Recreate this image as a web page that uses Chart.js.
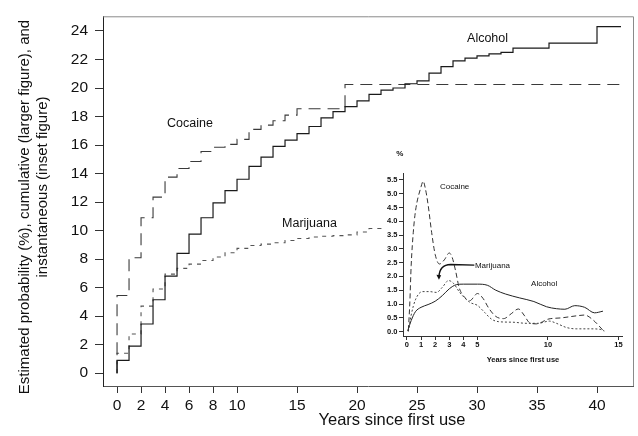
<!DOCTYPE html>
<html>
<head>
<meta charset="utf-8">
<script src="https://cdn.jsdelivr.net/npm/chart.js@4.4.1/dist/chart.umd.min.js"></script>
<style>
html,body{margin:0;padding:0;background:#fff;}
#wrap{position:relative;width:638px;height:436px;overflow:hidden;}
#main{position:absolute;left:0;top:0;}
#inset{position:absolute;left:370px;top:140px;}
</style>
</head>
<body>
<div id="wrap">
<canvas id="main" width="638" height="436"></canvas>
<canvas id="inset" width="260" height="230"></canvas>
</div>
<script>
// ---------- Main chart data: cumulative probability (%) ----------
const xTickValues = [0, 2, 4, 6, 8, 10, 15, 20, 25, 30, 35, 40];
const yTickValues = [0, 2, 4, 6, 8, 10, 12, 14, 16, 18, 20, 22, 24];

const alcoholYears = [0, 0, 1, 2, 3, 4, 5, 6, 7, 8, 9, 10, 11, 12, 13, 14, 15, 16, 17, 18, 19, 20, 21, 22, 23, 24, 25, 26, 27, 28, 29, 30, 31, 32, 33, 36, 40, 42];
const alcoholCum   = [0, 0.9, 1.9, 3.45, 5.15, 6.8, 8.4, 9.75, 10.9, 11.95, 12.8, 13.6, 14.5, 15.15, 15.9, 16.35, 16.8, 17.3, 17.9, 18.35, 18.7, 19.1, 19.55, 19.85, 20.0, 20.3, 20.5, 21.05, 21.5, 21.9, 22.1, 22.25, 22.4, 22.5, 22.8, 23.15, 24.3, 24.3];

const cocaineYears = [0, 0, 1, 2, 3, 4, 5, 6, 7, 8, 9, 10, 11, 12, 13, 14, 15, 19, 42];
const cocaineCum   = [0, 5.45, 8.1, 10.9, 12.35, 13.75, 14.35, 14.85, 15.55, 15.85, 16.05, 16.4, 17.1, 17.4, 17.7, 18.1, 18.55, 20.25, 20.25];

const marijuanaYears = [0, 0, 1, 2, 3, 4, 5, 6, 7, 8, 9, 10, 11, 12, 13, 14, 15, 16, 17, 18, 19, 20, 21, 22, 22.2];
const marijuanaCum   = [0, 1.4, 2.75, 4.7, 5.9, 6.95, 7.35, 7.65, 7.9, 8.15, 8.45, 8.75, 8.95, 9.05, 9.15, 9.3, 9.45, 9.55, 9.6, 9.65, 9.7, 9.9, 10.15, 10.3, 10.3];

// ---------- Inset data: instantaneous probability (%) ----------
const insetXTickValues = [0, 1, 2, 3, 4, 5, 10, 15];
const insetYTickValues = [0, 0.5, 1, 1.5, 2, 2.5, 3, 3.5, 4, 4.5, 5, 5.5];

const insetCocaineYears = [0.1, 0.2, 0.3, 0.45, 0.6, 1.0, 1.15, 1.3, 1.5, 1.75, 2.0, 2.3, 2.65, 3.0, 3.2, 3.45, 3.7, 4.0, 4.45, 5.0, 5.4, 5.8, 6.3, 6.85, 7.4, 7.9, 8.3, 8.7, 9.2, 10.0, 11.0, 12.0, 12.6, 13.2, 13.9];
const insetCocaine      = [0.05, 1.0, 2.4, 3.6, 4.35, 5.25, 5.45, 5.2, 4.6, 3.6, 2.8, 2.45, 2.6, 2.85, 2.7, 2.2, 1.6, 1.3, 1.12, 1.38, 1.2, 0.85, 0.55, 0.47, 0.65, 0.82, 0.6, 0.32, 0.28, 0.45, 0.5, 0.57, 0.6, 0.42, 0.05];

const insetAlcoholYears = [0.05, 0.3, 0.6, 1.0, 1.5, 2.0, 2.5, 3.0, 3.5, 4.0, 5.0, 5.7, 6.3, 7.0, 8.0, 9.0, 9.9, 10.6, 11.2, 11.9, 12.6, 13.3, 13.9];
const insetAlcohol      = [0.02, 0.4, 0.72, 0.88, 0.98, 1.1, 1.3, 1.55, 1.7, 1.72, 1.72, 1.68, 1.5, 1.36, 1.22, 1.09, 0.9, 0.83, 0.81, 0.94, 0.88, 0.68, 0.74];

const insetMarijuanaYears = [0.1, 0.3, 0.6, 1.1, 1.6, 2.1, 2.5, 2.95, 3.3, 3.7, 4.0, 4.5, 5.0, 5.5, 6.0, 6.5, 7.5, 8.5, 9.3, 10.1, 10.6, 11.3, 12.0, 13.0, 13.7, 14.0];
const insetMarijuana      = [0.0, 0.6, 1.15, 1.45, 1.45, 1.42, 1.6, 1.85, 1.75, 1.45, 1.27, 1.05, 0.95, 0.7, 0.45, 0.36, 0.34, 0.3, 0.3, 0.38, 0.3, 0.15, 0.1, 0.1, 0.08, 0.02];

// ---------- helpers ----------
const FONT = '"Liberation Sans", Arial, Helvetica, sans-serif';
const pts = (xs, ys) => xs.map((x, i) => ({x: x, y: ys[i]}));

// ---------- main chart ----------
const mainTextPlugin = {
  id: 'mainText',
  afterDraw(chart) {
    const {ctx, chartArea: a, scales: {x, y}} = chart;
    ctx.save();
    // top and right frame lines
    ctx.strokeStyle = '#8a8a8a';
    ctx.lineWidth = 1;
    ctx.beginPath();
    ctx.moveTo(a.left, a.top + 0.5);
    ctx.lineTo(a.right + 0.5, a.top + 0.5);
    ctx.lineTo(a.right + 0.5, a.bottom);
    ctx.stroke();
    // series labels
    ctx.fillStyle = '#111';
    ctx.font = '12.5px ' + FONT;
    ctx.textAlign = 'left';
    ctx.textBaseline = 'middle';
    [['Cocaine', 4.17, 17.5], ['Alcohol', 29.17, 23.5], ['Marijuana', 13.75, 10.5]].forEach(l => {
      ctx.fillText(l[0], x.getPixelForValue(l[1]), y.getPixelForValue(l[2]));
    });
    // x axis title
    ctx.font = '16.5px ' + FONT;
    ctx.textAlign = 'center';
    ctx.fillText('Years since first use', 392, 420);
    // y axis title (two lines)
    ctx.font = '15px ' + FONT;
    ctx.save();
    ctx.translate(25, 207);
    ctx.rotate(-Math.PI / 2);
    ctx.fillText('Estimated probability (%), cumulative (larger figure), and', 0, 0);
    ctx.restore();
    ctx.save();
    ctx.translate(42.5, 187);
    ctx.rotate(-Math.PI / 2);
    ctx.fillText('instantaneous (inset figure)', 0, 0);
    ctx.restore();
    ctx.restore();
  }
};

new Chart(document.getElementById('main'), {
  type: 'line',
  data: {
    datasets: [
      {label: 'Alcohol', data: pts(alcoholYears, alcoholCum), stepped: 'before',
       borderColor: '#1a1a1a', borderWidth: 1.2, pointRadius: 0, fill: false},
      {label: 'Cocaine', data: pts(cocaineYears, cocaineCum), stepped: 'before',
       borderColor: '#3a3a3a', borderWidth: 1.1, borderDash: [12, 7], pointRadius: 0, fill: false},
      {label: 'Marijuana', data: pts(marijuanaYears, marijuanaCum), stepped: 'before',
       borderColor: '#555', borderWidth: 1.1, borderDash: [4, 5], pointRadius: 0, fill: false}
    ]
  },
  options: {
    responsive: false, animation: false, devicePixelRatio: 1,
    layout: {padding: {left: 0, top: 10, right: 5, bottom: 0}},
    plugins: {legend: {display: false}, tooltip: {enabled: false}},
    scales: {
      x: {
        type: 'linear', min: -1.17, max: 43,
        afterBuildTicks: s => { s.ticks = xTickValues.map(v => ({value: v})); },
        afterFit: s => { s.height = 50; },
        ticks: {autoSkip: false, maxRotation: 0, padding: 3, color: '#111', font: {family: FONT, size: 15.5}},
        grid: {display: true, drawOnChartArea: false, drawTicks: true, tickLength: 7, color: '#333'},
        border: {display: true, color: '#555', width: 1}
      },
      y: {
        type: 'linear', min: -0.9, max: 25.03,
        afterBuildTicks: s => { s.ticks = yTickValues.map(v => ({value: v})); },
        afterFit: s => { s.width = 103; },
        ticks: {autoSkip: false, padding: 7, color: '#111', font: {family: FONT, size: 15.5}},
        grid: {display: true, drawOnChartArea: false, drawTicks: true, tickLength: 8, color: '#333'},
        border: {display: true, color: '#222', width: 1}
      }
    }
  },
  plugins: [mainTextPlugin]
});

// ---------- inset chart ----------
const insetTextPlugin = {
  id: 'insetText',
  afterDraw(chart) {
    const {ctx, scales: {x, y}} = chart;
    const px = v => x.getPixelForValue(v);
    const py = v => y.getPixelForValue(v);
    ctx.save();
    ctx.fillStyle = '#111';
    ctx.textBaseline = 'middle';
    ctx.font = '8px ' + FONT;
    ctx.textAlign = 'left';
    ctx.fillText('Cocaine', px(2.34), py(5.25));
    ctx.fillText('Marijuana', px(4.82), py(2.4));
    ctx.fillText('Alcohol', px(8.8), py(1.73));
    ctx.font = 'bold 8px ' + FONT;
    ctx.textAlign = 'center';
    ctx.fillText('%', px(-0.5), py(6.46));
    ctx.font = 'bold 7.5px ' + FONT;
    ctx.fillText('Years since first use', px(8.23), py(-1.02));
    // leader arrow from the Marijuana label
    ctx.strokeStyle = '#111';
    ctx.lineWidth = 1.4;
    ctx.beginPath();
    ctx.moveTo(px(4.78), py(2.41));
    ctx.lineTo(px(3.1), py(2.43));
    ctx.quadraticCurveTo(px(2.3), py(2.42), px(2.27), py(1.98));
    ctx.stroke();
    const tx = px(2.27), ty = py(1.88);
    ctx.fillStyle = '#111';
    ctx.beginPath();
    ctx.moveTo(tx, ty);
    ctx.lineTo(tx - 2.5, ty - 5);
    ctx.lineTo(tx + 2.2, ty - 4.6);
    ctx.closePath();
    ctx.fill();
    ctx.restore();
  }
};

new Chart(document.getElementById('inset'), {
  type: 'line',
  data: {
    datasets: [
      {label: 'Cocaine', data: pts(insetCocaineYears, insetCocaine), cubicInterpolationMode: 'monotone',
       borderColor: '#333', borderWidth: 1, borderDash: [5, 3], pointRadius: 0, fill: false},
      {label: 'Alcohol', data: pts(insetAlcoholYears, insetAlcohol), cubicInterpolationMode: 'monotone',
       borderColor: '#222', borderWidth: 1, pointRadius: 0, fill: false},
      {label: 'Marijuana', data: pts(insetMarijuanaYears, insetMarijuana), cubicInterpolationMode: 'monotone',
       borderColor: '#444', borderWidth: 1, borderDash: [2, 2], pointRadius: 0, fill: false}
    ]
  },
  options: {
    responsive: false, animation: false, devicePixelRatio: 1,
    layout: {padding: {left: 0, top: 33, right: 8, bottom: 0}},
    plugins: {legend: {display: false}, tooltip: {enabled: false}},
    scales: {
      x: {
        type: 'linear', min: -0.28, max: 15.25,
        afterBuildTicks: s => { s.ticks = insetXTickValues.map(v => ({value: v})); },
        afterFit: s => { s.height = 34; },
        ticks: {autoSkip: false, maxRotation: 0, padding: 0, color: '#111', font: {family: FONT, size: 7.5, weight: 'bold'}},
        grid: {display: true, drawOnChartArea: false, drawTicks: true, tickLength: 4, color: '#333'},
        border: {display: true, color: '#333', width: 1}
      },
      y: {
        type: 'linear', min: -0.16, max: 5.75,
        afterBuildTicks: s => { s.ticks = insetYTickValues.map(v => ({value: v})); },
        afterFit: s => { s.width = 33; },
        ticks: {autoSkip: false, padding: 1.5, color: '#111', font: {family: FONT, size: 7.5, weight: 'bold'},
                callback: v => Number(v).toFixed(1)},
        grid: {display: true, drawOnChartArea: false, drawTicks: true, tickLength: 4, color: '#333'},
        border: {display: true, color: '#333', width: 1}
      }
    }
  },
  plugins: [insetTextPlugin]
});
</script>
</body>
</html>
